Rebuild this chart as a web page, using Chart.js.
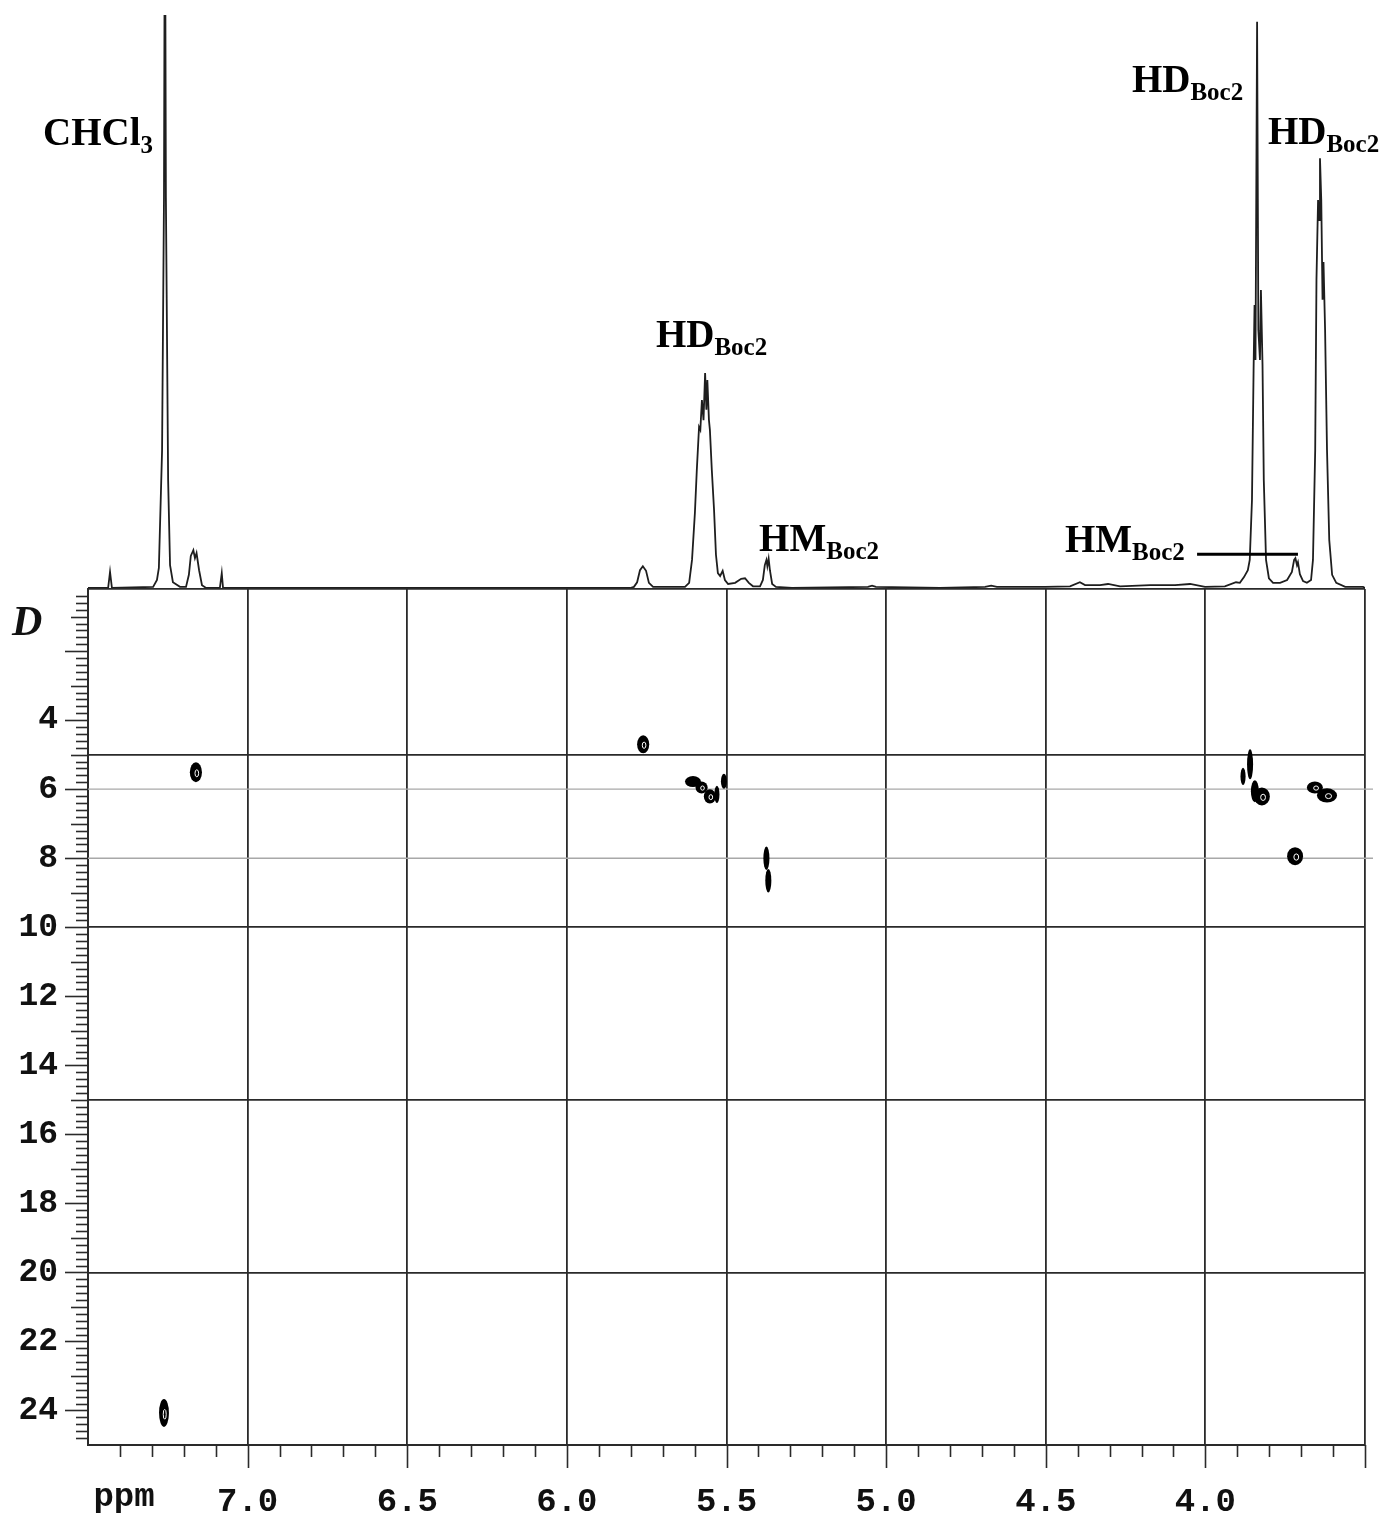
<!DOCTYPE html>
<html>
<head>
<meta charset="utf-8">
<title>DOSY</title>
<script src="https://cdn.jsdelivr.net/npm/chart.js@4.4.0/dist/chart.umd.min.js"></script>
<style>
  html, body { margin: 0; padding: 0; background: #fff; }
  #wrap { position: relative; width: 1386px; height: 1520px; background: #fff; }
  #wrap canvas { position: absolute; left: 0; top: 0; }
</style>
</head>
<body>
<div id="wrap">
  <canvas id="dosy" width="1386" height="1520"></canvas>
  <canvas id="spec" width="1386" height="1520"></canvas>
</div>
<script>
// 1D proton trace (ppm, relative intensity)
var specPpm = [7.500, 7.437, 7.431, 7.425, 7.296, 7.284, 7.278, 7.268, 7.262, 7.259, 7.256, 7.249, 7.243, 7.234,
  7.212, 7.193, 7.184, 7.178, 7.170, 7.165, 7.160, 7.152, 7.143, 7.130, 7.087, 7.081, 7.077,
  5.802, 5.790, 5.780, 5.771, 5.762, 5.752, 5.743, 5.730, 5.630, 5.617, 5.608, 5.599, 5.593, 5.586,
  5.582, 5.577, 5.572, 5.567, 5.563, 5.560, 5.555, 5.552, 5.546, 5.539, 5.533, 5.527, 5.520, 5.512,
  5.505, 5.495, 5.473, 5.454, 5.442, 5.430, 5.417, 5.395, 5.386, 5.380, 5.375, 5.372, 5.368, 5.364,
  5.357, 5.345, 5.295, 5.057, 5.044, 5.032, 4.831, 4.690, 4.671, 4.653, 4.502, 4.424, 4.393, 4.377,
  4.330, 4.305, 4.267, 4.173, 4.095, 4.048, 4.001, 3.939, 3.904, 3.892, 3.879, 3.867, 3.861, 3.854,
  3.849, 3.846, 3.843, 3.838, 3.834, 3.829, 3.826, 3.821, 3.817, 3.810, 3.801, 3.788, 3.766, 3.744,
  3.729, 3.722, 3.718, 3.713, 3.710, 3.704, 3.694, 3.682, 3.669, 3.663, 3.656, 3.652, 3.647, 3.644,
  3.641, 3.637, 3.633, 3.630, 3.625, 3.619, 3.612, 3.603, 3.590, 3.562, 3.506, 3.500];
var specInt = [0, 0, 2.8, 0, 0.2, 1.4, 3.5, 24, 68, 130, 68, 18.8, 4, 1,
  0.2, 0.2, 2.3, 5.6, 6.6, 5.2, 6.1, 3.1, 0.5, 0, 0, 2.6, 0,
  0, 0.2, 1.0, 3.1, 3.8, 3.0, 0.9, 0.2, 0.2, 0.9, 4.9, 13.1, 20.6, 28.1,
  27.6, 32.8, 29.3, 37.5, 31.1, 36.3, 29.3, 27.6, 20.6, 13.6, 5.8, 2.6, 2.1, 3.0,
  1.4, 0.7, 0.9, 1.6, 1.7, 0.9, 0.3, 0.3, 1.4, 4.0, 4.9, 3.8, 5.1, 3.1,
  0.7, 0.2, 0, 0.2, 0.4, 0.2, 0, 0.2, 0.4, 0.2, 0.2, 0.3, 1.0, 0.5,
  0.5, 0.7, 0.3, 0.5, 0.5, 0.7, 0.2, 0.3, 1.0, 0.9, 1.9, 3.1, 4.9, 15.4,
  38.0, 49.4, 39.8, 98.8, 45.0, 39.8, 52.0, 38.9, 18.8, 4.9, 1.7, 0.9, 0.9, 1.4,
  2.8, 4.9, 5.2, 4.0, 4.5, 2.4, 1.2, 0.9, 1.4, 4.9, 24.1, 53.8, 67.7, 64.2,
  75.0, 67.7, 50.3, 56.9, 45.0, 24.1, 8.4, 2.3, 0.9, 0.2, 0.2, 0];

// DOSY cross peaks: centre (ppm, D) and extent (ppm, D)
var peakPpm  = [7.162, 7.262, 5.761, 5.605, 5.578, 5.552, 5.530, 5.508, 5.375, 5.369,
  3.860, 3.882, 3.845, 3.823, 3.657, 3.619, 3.719];
var peakD    = [5.51, 24.07, 4.70, 5.78, 5.95, 6.21, 6.15, 5.77, 8.00, 8.65,
  5.28, 5.63, 6.06, 6.21, 5.95, 6.18, 7.94];
var peakWidth = [0.038, 0.031, 0.038, 0.050, 0.038, 0.038, 0.016, 0.019, 0.019, 0.019,
  0.019, 0.016, 0.025, 0.050, 0.050, 0.063, 0.050];
var peakSpan = [0.58, 0.81, 0.52, 0.32, 0.35, 0.41, 0.50, 0.44, 0.68, 0.68,
  0.87, 0.50, 0.64, 0.52, 0.35, 0.41, 0.52];

// axis labels
var ppmLabels = [7.0, 6.5, 6.0, 5.5, 5.0, 4.5, 4.0];
var dLabels = [4, 6, 8, 10, 12, 14, 16, 18, 20, 22, 24];
var guideD = [6, 8];

// assignments over the 1D trace
var peakNames = [
  { main: 'CHCl', sub: '3', ppm: 7.641, level: 77.3 },
  { main: 'HD', sub: 'Boc2', ppm: 5.721, level: 42.1 },
  { main: 'HM', sub: 'Boc2', ppm: 5.398, level: 6.5 },
  { main: 'HM', sub: 'Boc2', ppm: 4.440, level: 6.3 },
  { main: 'HD', sub: 'Boc2', ppm: 4.230, level: 86.6 },
  { main: 'HD', sub: 'Boc2', ppm: 3.804, level: 77.5 }
];
var hmBar = { from: 4.026, to: 3.710, level: 5.9 };

var ink = '#2a2a2a';
var monoFont = 'Liberation Mono';

var dosyDecor = {
  id: 'dosyDecor',
  beforeDatasetsDraw: function(chart) {
    var ctx = chart.ctx, a = chart.chartArea, ys = chart.scales.y;
    ctx.save();
    ctx.strokeStyle = '#a8a8a8';
    ctx.lineWidth = 1.3;
    guideD.forEach(function(d) {
      var py = ys.getPixelForValue(d);
      ctx.beginPath();
      ctx.moveTo(a.left, py);
      ctx.lineTo(a.right + 8, py);
      ctx.stroke();
    });
    ctx.restore();
  },
  afterDatasetsDraw: function(chart) {
    var ctx = chart.ctx, xs = chart.scales.x, ys = chart.scales.y;
    var meta = chart.getDatasetMeta(0);
    ctx.save();
    meta.data.forEach(function(el, i) {
      var rx = Math.abs(xs.getPixelForValue(peakPpm[i] + peakWidth[i] / 2) - el.x);
      var ry = Math.abs(ys.getPixelForValue(peakD[i] + peakSpan[i] / 2) - el.y);
      ctx.fillStyle = '#000';
      ctx.beginPath();
      ctx.ellipse(el.x, el.y, rx, ry, 0, 0, Math.PI * 2);
      ctx.fill();
      if (rx > 4.5 && ry > 6) {
        ctx.strokeStyle = '#fff';
        ctx.lineWidth = 1;
        ctx.beginPath();
        ctx.ellipse(el.x + rx * 0.15, el.y + ry * 0.1, rx * 0.3, ry * 0.35, 0, 0, Math.PI * 2);
        ctx.stroke();
      }
    });
    ctx.restore();
  },
  afterDraw: function(chart) {
    var ctx = chart.ctx, a = chart.chartArea, xs = chart.scales.x, ys = chart.scales.y;
    ctx.save();
    ctx.strokeStyle = ink;
    ctx.lineWidth = 1.6;
    // D ticks every 0.2
    for (var k = 2; k < 125; k++) {
      var d = k / 5;
      var len = 12;
      if (k % 5 === 0) len = (k / 5) % 2 === 0 ? 23 : 17;
      var py = Math.round(ys.getPixelForValue(d)) + 0.5;
      ctx.beginPath();
      ctx.moveTo(a.left - len, py);
      ctx.lineTo(a.left, py);
      ctx.stroke();
    }
    // ppm ticks every 0.1
    for (var j = 35; j < 75; j++) {
      var px = Math.round(xs.getPixelForValue(j / 10)) + 0.5;
      var l = j % 5 === 0 ? 23 : 12;
      ctx.beginPath();
      ctx.moveTo(px, a.bottom);
      ctx.lineTo(px, a.bottom + l);
      ctx.stroke();
    }
    ctx.fillStyle = '#111';
    ctx.font = 'bold 34px "' + monoFont + '"';
    ctx.textAlign = 'center';
    ctx.textBaseline = 'alphabetic';
    ctx.fillText('ppm', 124, 1506);
    ctx.font = 'italic bold 42px "Liberation Serif"';
    ctx.textAlign = 'left';
    ctx.fillText('D', 12, 635);
    ctx.restore();
  }
};

var nameLabels = {
  id: 'nameLabels',
  afterDatasetsDraw: function(chart) {
    var ctx = chart.ctx, xs = chart.scales.x, ys = chart.scales.y;
    ctx.save();
    ctx.fillStyle = '#000';
    ctx.textBaseline = 'alphabetic';
    ctx.textAlign = 'left';
    peakNames.forEach(function(n) {
      var px = xs.getPixelForValue(n.ppm), py = ys.getPixelForValue(n.level);
      ctx.font = 'bold 39px "Liberation Serif"';
      ctx.fillText(n.main, px, py);
      var w = ctx.measureText(n.main).width;
      ctx.font = 'bold 25px "Liberation Serif"';
      ctx.fillText(n.sub, px + w, py + 8);
    });
    ctx.strokeStyle = '#000';
    ctx.lineWidth = 3;
    var by = ys.getPixelForValue(hmBar.level);
    ctx.beginPath();
    ctx.moveTo(xs.getPixelForValue(hmBar.from), by);
    ctx.lineTo(xs.getPixelForValue(hmBar.to), by);
    ctx.stroke();
    ctx.restore();
  }
};

var dosyChart = new Chart(document.getElementById('dosy'), {
  type: 'scatter',
  data: {
    datasets: [{
      data: peakPpm.map(function(p, i) { return { x: p, y: peakD[i] }; }),
      pointRadius: 0,
      pointHoverRadius: 0
    }]
  },
  options: {
    responsive: false,
    animation: false,
    events: [],
    layout: { padding: { top: 589, right: 21, left: 0, bottom: 0 } },
    plugins: { legend: { display: false }, tooltip: { enabled: false } },
    scales: {
      x: {
        type: 'linear', min: 3.5, max: 7.5, reverse: true, position: 'bottom',
        afterFit: function(s) { s.height = 75; },
        grid: { drawTicks: false, color: ink, lineWidth: 1.8 },
        border: { color: ink, width: 2 },
        ticks: {
          stepSize: 0.5, autoSkip: false, maxRotation: 0, padding: 0,
          color: '#111', font: { family: monoFont, weight: 'bold', size: 34, lineHeight: 3.4 },
          callback: function(v) {
            var hit = ppmLabels.some(function(p) { return Math.abs(p - v) < 1e-6; });
            return hit ? Number(v).toFixed(1) : '';
          }
        }
      },
      y: {
        type: 'linear', min: 0.2, max: 25, reverse: true, position: 'left',
        afterFit: function(s) { s.width = 88; },
        grid: {
          drawTicks: false, lineWidth: 1.8,
          color: function(c) {
            var v = c.tick ? c.tick.value : 0;
            return (v % 5 === 0 || v < 0.5) ? ink : 'rgba(0,0,0,0)';
          }
        },
        border: { color: ink, width: 2 },
        ticks: {
          stepSize: 1, autoSkip: false, padding: 30,
          color: '#111', font: { family: monoFont, weight: 'bold', size: 33 },
          callback: function(v) { return dLabels.indexOf(v) >= 0 ? String(v) : ''; }
        }
      }
    }
  },
  plugins: [dosyDecor]
});

var specChart = new Chart(document.getElementById('spec'), {
  type: 'line',
  data: {
    datasets: [{
      data: specPpm.map(function(p, i) { return { x: p, y: specInt[i] }; }),
      borderColor: '#1e1e1e',
      borderWidth: 1.8,
      pointRadius: 0,
      tension: 0,
      fill: false
    }]
  },
  options: {
    responsive: false,
    animation: false,
    events: [],
    layout: { padding: { left: 88, right: 21, top: 15, bottom: 932 } },
    plugins: { legend: { display: false }, tooltip: { enabled: false } },
    scales: {
      x: { type: 'linear', min: 3.5, max: 7.5, reverse: true, display: false },
      y: { type: 'linear', min: 0, max: 100, display: false }
    }
  },
  plugins: [nameLabels]
});
</script>
</body>
</html>
